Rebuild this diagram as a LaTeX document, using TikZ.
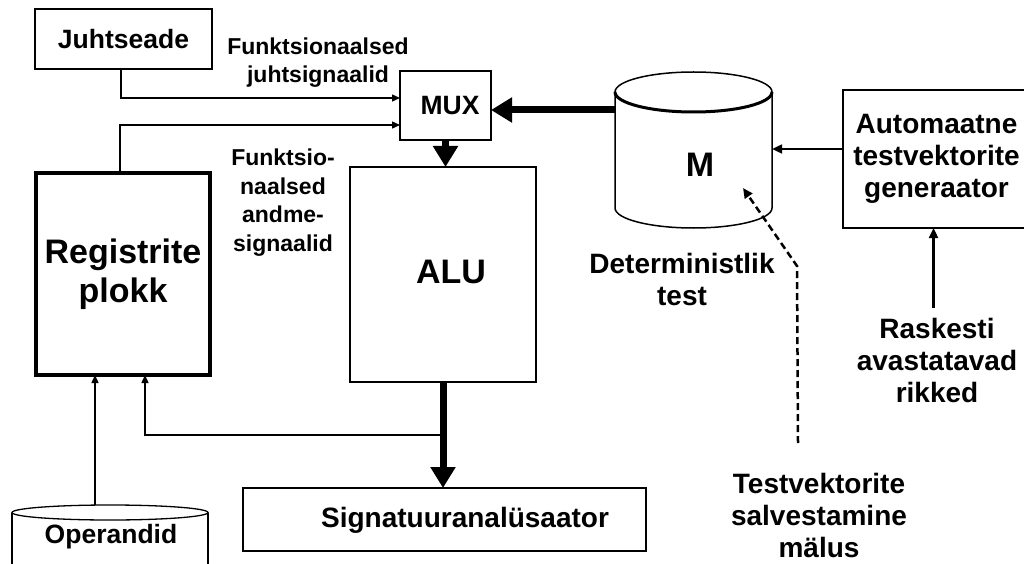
\documentclass[tikz,border=0pt]{standalone}
\usepackage{fontspec}
\setmainfont{Liberation Sans}
\usetikzlibrary{arrows.meta,calc}
\newcommand\fsA{\fontsize{26.5}{31}\selectfont\bfseries}
\newcommand\fsB{\fontsize{23}{28.5}\selectfont\bfseries}
\newcommand\fsC{\fontsize{28}{32}\selectfont\bfseries}
\newcommand\fsD{\fontsize{34}{39}\selectfont\bfseries}
\begin{document}
\begin{tikzpicture}[x=1pt,y=-1pt,
  box/.style={draw,line width=1.5pt,inner sep=0pt,outer sep=0pt},
  thinarrow/.style={line width=1.3pt,-{Triangle[length=8pt,width=7pt]}},
  midarrow/.style={line width=2.2pt,-{Triangle[length=10pt,width=9pt]}},
  bus/.style={line width=7pt,-{Triangle[length=21pt,width=24pt]}},
  dasharrow/.style={line width=2.5pt,dash pattern=on 7pt off 4pt,-{Triangle[length=10pt,width=9pt]}},
  lbl/.style={align=center,inner sep=0pt}]
\useasboundingbox (0,0) rectangle (1024,564);
\fill[white] (0,0) rectangle (1024,564);
\begin{scope}
\clip (0,0) rectangle (1024,564);
% boxes
\node[box,minimum width=177pt,minimum height=60pt,font=\fsA] (juht) at (123.5,39) {Juhtseade};
\node[box,minimum width=91pt,minimum height=69pt] (mux) at (445.5,105.5) {};
\node[font=\fsA,inner sep=0pt] (muxl) at (450,106) {MUX};
\node[box,minimum width=186pt,minimum height=215pt] (alu) at (443,274.5) {};
\node[font=\fsD,inner sep=0pt] (alul) at (451,272) {ALU};
\node[box,line width=4pt,minimum width=174pt,minimum height=202pt,font=\fsD,align=center] (reg) at (123,274) {Registrite\\plokk};
\node[box,minimum width=403pt,minimum height=63pt] (sig) at (444.5,519.5) {};
\node[font=\fsC,inner sep=0pt] (sigl) at (465,520) {Signatuuranalüsaator};
\node[box,minimum width=187pt,minimum height=138pt,font=\fsC,align=center] (auto) at (936.5,159) {Automaatne\\testvektorite\\generaator};
% memory cylinder M
\node[minimum width=157pt,minimum height=156pt,inner sep=0pt] (mem) at (693.5,150) {};
\draw[line width=1.5pt] (693.5,92) ellipse [x radius=78.5pt, y radius=20pt];
\draw[line width=1.5pt] (615,92) -- (615,208) arc[start angle=180,end angle=360,x radius=78.5pt,y radius=20pt] -- (772,92);
\draw[line width=3pt] (615,92) arc[start angle=180,end angle=360,x radius=78.5pt,y radius=20pt];
\node[font=\fsD,inner sep=0pt] (meml) at (700,165) {M};
% Operandid cylinder
\node[minimum width=196pt,minimum height=59pt,inner sep=0pt] (oper) at (110,534.5) {};
\draw[line width=1.3pt] (12,512.5) -- (12,570) (208,512.5) -- (208,570);
\draw[line width=1.3pt] (110,512.5) ellipse [x radius=98pt,y radius=7.5pt];
\node[font=\fsA,inner sep=0pt] (operl) at (111,537) {Operandid};
% labels
\node[lbl,font=\fsB] (fj) at (318,62.5) {Funktsionaalsed\\juhtsignaalid};
\node[lbl,font=\fsB] (fa) at (283,202.5) {Funktsio-\\naalsed\\andme-\\signaalid};
\node[lbl,font=\fsC] (det) at (682,279) {Deterministlik\\test};
\node[lbl,font=\fsC] (rask) at (937,360) {Raskesti\\avastatavad\\rikked};
\node[lbl,font=\fsC] (testv) at (819,515) {Testvektorite\\salvestamine\\mälus};
% connectors
\draw[thinarrow] ([xshift=-2.5pt]juht.south) |- ([yshift=7.5pt]mux.west);
\draw[thinarrow] ([xshift=-3pt]reg.north) |- ([yshift=-19.5pt]mux.west);
\coordinate (memL) at ([yshift=40pt]mem.west);
\draw[bus] (memL) -- (memL -| mux.east);
\draw[bus] (mux.south) -- (mux.south |- alu.north);
\draw[bus] (alu.south) -- (alu.south |- sig.north);
\coordinate (br) at ($(alu.south)!0.5!(alu.south |- sig.north)$);
\draw[thinarrow] (br) -| ([xshift=22pt]reg.south);
\coordinate (opA) at ([xshift=-15pt]oper.north);
\draw[thinarrow] (opA) -- (opA |- reg.south);
\coordinate (autoL) at ([yshift=10pt]auto.west);
\draw[midarrow] (autoL) -- (autoL -| mem.east);
\coordinate (raskT) at ([xshift=-3pt]auto.south);
\draw[midarrow] (raskT |- rask.north) ++(0,-10) -- (raskT);
\coordinate (dA) at (798,443);
\coordinate (dB) at (797,266);
\coordinate (dC) at (743,188);
\draw[dasharrow] (dA) -- (dB) -- (dC);
\end{scope}
\end{tikzpicture}
\end{document}
